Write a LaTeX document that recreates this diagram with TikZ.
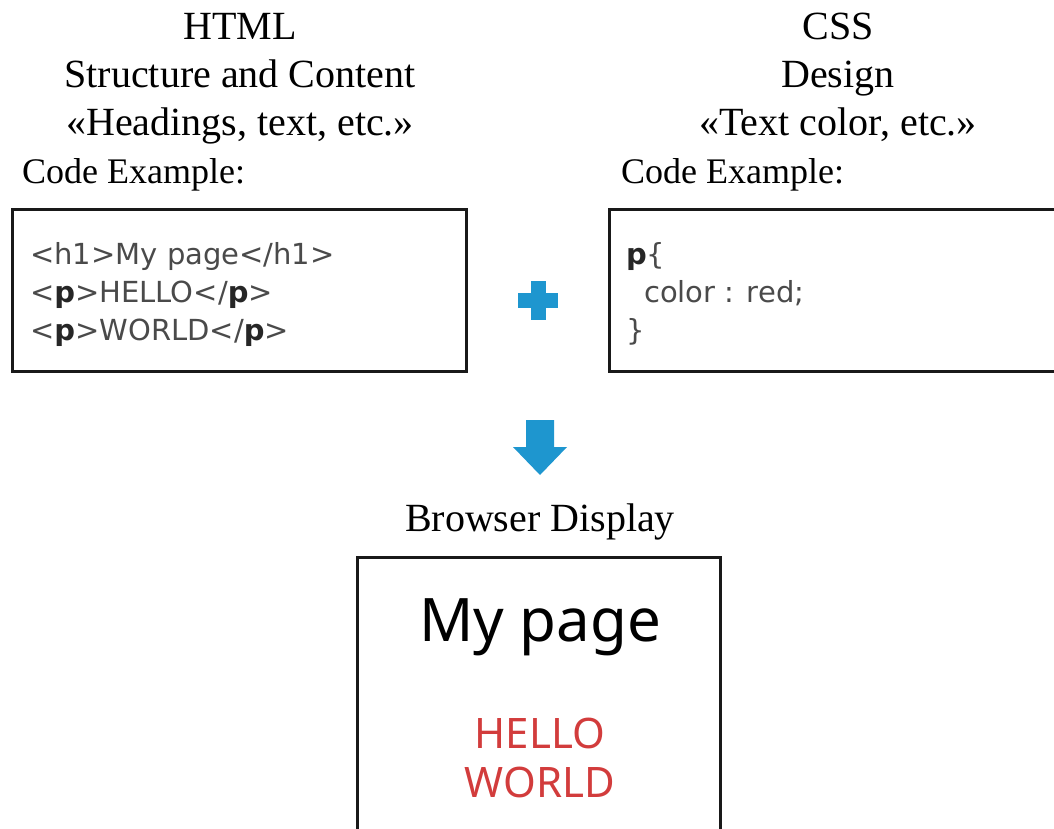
\documentclass[tikz,border=0pt]{standalone}
\usepackage{fontspec}
\setmainfont{Liberation Serif}
\newfontfamily\codefont{DejaVu Sans}
\newfontfamily\pagefont{Noto Sans}
\definecolor{arrowblue}{HTML}{1E96CF}
\definecolor{codegray}{HTML}{4A4A4A}
\definecolor{webred}{HTML}{D23C3C}
\tikzset{
  heading/.style={anchor=base, inner sep=0pt, font=\fontsize{40}{48}\selectfont},
  codelabel/.style={anchor=base west, inner sep=0pt, font=\fontsize{36}{43}\selectfont},
  codebox/.style={draw=black!90, line width=3pt},
  codeline/.style={anchor=base west, inner sep=0pt, text=codegray, font=\codefont\fontsize{29}{34}\selectfont},
  bluemark/.style={fill=arrowblue, draw=none},
}
\newcommand{\bp}{{\color{black!85}\bfseries p}}
\begin{document}
\begin{tikzpicture}[x=1pt,y=-1pt]
\useasboundingbox (0,0) rectangle (1054,829);
% headings
\node[heading] (h1) at (240,40) {HTML};
\node[heading] (h2) at (240,88) {Structure and Content};
\node[heading] (h3) at (240,136) {«Headings, text, etc.»};
\node[codelabel] (h4) at (22,184) {Code Example:};
\node[heading] (c1) at (838,40) {CSS};
\node[heading] (c2) at (838,88) {Design};
\node[heading] (c3) at (838,136) {«Text color, etc.»};
\node[codelabel] (c4) at (621,184) {Code Example:};
% boxes
\draw[codebox] (12,209) rectangle (466,371);
\draw[codebox] (609,209) rectangle (1070,371);
\node[codeline] (l1) at (30,264) {<h1>My page</h1>};
\node[codeline] (l2) at (30,302) {<\bp>HELLO</\bp>};
\node[codeline] (l3) at (30,340) {<\bp>WORLD</\bp>};
\node[codeline] (r1) at (626,264) {\bp\{};
\node[codeline] (r2) at (644,302) {color : red;};
\node[codeline] (r3) at (626,340) {\}};
% plus
\fill[bluemark] (518,293) rectangle (558,308);
\fill[bluemark] (530.5,281) rectangle (545.5,320);
% arrow
\fill[bluemark] (526,420) -- (554,420) -- (554,447) -- (567,447) -- (540,475) -- (513,447) -- (526,447) -- cycle;
% browser
\node[heading] (bd) at (540,531) {Browser Display};
\draw[codebox] (357,557) rectangle (720,840);
\node[anchor=base, inner sep=0pt, font=\pagefont\fontsize{60}{70}\selectfont] (mp) at (540,641) {My page};
\node[anchor=base, inner sep=0pt, text=webred, font=\pagefont\fontsize{42}{49}\selectfont] (hw1) at (540,748) {HELLO};
\node[anchor=base, inner sep=0pt, text=webred, font=\pagefont\fontsize{42}{49}\selectfont] (hw2) at (540,797) {WORLD};
\end{tikzpicture}
\end{document}
